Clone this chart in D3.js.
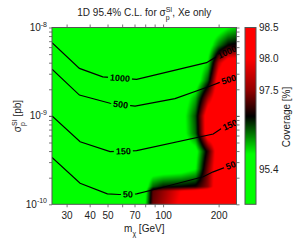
<!DOCTYPE html>
<html><head><meta charset="utf-8">
<script src="https://cdn.jsdelivr.net/npm/d3@7"></script>
<style>
body{margin:0;background:#fff}
svg{display:block}
text{font-family:"Liberation Sans",Arial,sans-serif;white-space:pre}
</style>
</head><body>
<svg id="c" width="296" height="246"></svg>
<script>
// ---------- data ----------
const massNodes = [25, 50, 80, 88, 100, 125, 150, 175, 200, 225, 250];
const sigmaRows = [1e-10, 1.413e-10, 1.585e-10, 2.512e-10, 3.981e-10, 6.31e-10, 1e-9, 1.585e-9, 2.512e-9, 3.981e-9, 6.31e-9, 1e-8];
const coverage = [
  [95.4, 95.4, 95.8, 97.3, 97.6, 98.1, 98.4, 98.4, 98.4, 98.4, 98.4],
  [95.4, 95.4, 95.6, 97.2, 97.5, 98.0, 98.3, 98.4, 98.4, 98.4, 98.4],
  [95.4, 95.4, 95.5, 96.4, 96.7, 96.8, 96.9, 97.5, 98.5, 98.5, 98.5],
  [95.4, 95.4, 95.4, 95.4, 95.4, 95.5, 95.8, 97.4, 98.5, 98.5, 98.5],
  [95.4, 95.4, 95.4, 95.4, 95.4, 95.4, 95.6, 97.0, 98.5, 98.5, 98.5],
  [95.4, 95.4, 95.4, 95.4, 95.4, 95.5, 96.4, 98.5, 98.5, 98.5, 98.5],
  [95.4, 95.4, 95.4, 95.4, 95.4, 95.5, 96.5, 98.5, 98.5, 98.5, 98.5],
  [95.4, 95.4, 95.4, 95.4, 95.4, 95.4, 96.1, 97.6, 98.5, 98.5, 98.5],
  [95.4, 95.4, 95.4, 95.4, 95.4, 95.4, 95.4, 96.5, 98.4, 98.5, 98.5],
  [95.4, 95.4, 95.4, 95.4, 95.4, 95.4, 95.4, 95.9, 97.7, 98.4, 98.4],
  [95.4, 95.4, 95.4, 95.4, 95.4, 95.4, 95.4, 95.5, 96.3, 96.8, 96.9],
  [95.4, 95.4, 95.4, 95.4, 95.4, 95.4, 95.4, 95.4, 95.5, 95.8, 96.0]
];
const contourLevels = [1000, 500, 150, 50];
const contour1000 = [[25, 6.73e-9], [35.2, 3.45e-9], [47.1, 2.77e-9], [71.9, 2.59e-9], [172, 4.0e-9], [195, 4.68e-9], [250, 5.94e-9]];
const contour500 = [[25, 3.37e-9], [35.2, 1.72e-9], [51.6, 1.39e-9], [70.5, 1.29e-9], [116, 1.57e-9], [176, 2.14e-9], [208, 2.44e-9], [250, 2.75e-9]];
const contour150 = [[25, 1.0e-9], [35.5, 5.1e-10], [51.6, 3.94e-10], [71.9, 4.04e-10], [187, 6.24e-10], [208, 7.24e-10], [250, 8.53e-10]];
const contour50 = [[25, 3.4e-10], [35.5, 1.73e-10], [49.9, 1.31e-10], [57.9, 1.29e-10], [71.9, 1.31e-10], [88.5, 1.46e-10], [165, 2.05e-10], [187, 2.33e-10], [250, 2.93e-10]];
const labelMassLeft = [58.4, 58.9, 60.9, 64.5];
const labelMassRight = [222, 227, 230, 232];
const xTickLabels = [30, 40, 50, 70, 100, 200];
const xMinorTicks = [30, 40, 50, 60, 70, 80, 90, 100, 200];
const yMajorTicks = [1e-10, 1e-9, 1e-8];
const yTickExp = ["-10", "-9", "-8"];
const cbTicks = [98.5, 98.0, 97.5, 95.4];
const cbTickText = ["98.5", "98.0", "97.5", "95.4"];

// ---------- layout ----------
const L = 52, R = 236.5, T = 27.5, B = 204.3;
const svg = d3.select("#c");
const x = d3.scaleLog().domain([25, 250]).range([L, R]);
const y = d3.scaleLog().domain([1e-10, 1e-8]).range([B, T]);
const cb = d3.scaleLinear().domain([94.47, 95.4, 97.5, 98.5]).range([B, 169, 90, T]);
const color = d3.scaleLinear().domain([95.8, 96.8, 98.0]).range(["#00ff00", "#000000", "#ff0000"]).clamp(true);
const axisCol = "#555";

// ---------- heat map ----------
const lmN = massNodes.map(Math.log10), lsN = sigmaRows.map(Math.log10);
function idx(arr, v) {
  let i = 0;
  while (i < arr.length - 2 && v > arr[i + 1]) i++;
  const t = Math.max(0, Math.min(1, (v - arr[i]) / (arr[i + 1] - arr[i])));
  return [i, t];
}
function cov(m, s) {
  const [i, tx] = idx(lmN, Math.log10(m));
  const [j, ty] = idx(lsN, Math.log10(s));
  const a = coverage[j][i], b = coverage[j][i + 1], c = coverage[j + 1][i], d = coverage[j + 1][i + 1];
  return (a * (1 - tx) + b * tx) * (1 - ty) + (c * (1 - tx) + d * tx) * ty;
}
const W = Math.ceil(R - L), H = Math.ceil(B - T);
const cv = document.createElement("canvas");
cv.width = W; cv.height = H;
const ctx = cv.getContext("2d");
const img = ctx.createImageData(W, H);
for (let j = 0; j < H; j++) {
  const s = y.invert(T + (j + 0.5) * (B - T) / H);
  for (let i = 0; i < W; i++) {
    const m = x.invert(L + (i + 0.5) * (R - L) / W);
    const c = d3.rgb(color(cov(m, s)));
    const k = (j * W + i) * 4;
    img.data[k] = c.r; img.data[k + 1] = c.g; img.data[k + 2] = c.b; img.data[k + 3] = 255;
  }
}
ctx.putImageData(img, 0, 0);
svg.append("image").attr("x", L).attr("y", T).attr("width", R - L).attr("height", B - T)
  .attr("preserveAspectRatio", "none").attr("href", cv.toDataURL());

// ---------- contours ----------
const contours = [contour1000, contour500, contour150, contour50];
const line = d3.line().x(d => x(d[0])).y(d => y(d[1]));
function posOn(pts, m) {
  const px = x(m);
  for (let k = 0; k < pts.length - 1; k++) {
    const x0 = x(pts[k][0]), x1 = x(pts[k + 1][0]);
    if (px >= x0 && px <= x1) {
      const y0 = y(pts[k][1]), y1 = y(pts[k + 1][1]);
      const t = (px - x0) / (x1 - x0);
      return { x: px, y: y0 + t * (y1 - y0), a: Math.atan2(y1 - y0, x1 - x0) * 180 / Math.PI };
    }
  }
  return { x: px, y: y(pts[pts.length - 1][1]), a: 0 };
}
const defs = svg.append("defs");
defs.append("clipPath").attr("id", "plotclip").append("rect").attr("x", L).attr("y", T).attr("width", R - L).attr("height", B - T);
const mask = defs.append("mask").attr("id", "gaps").attr("maskUnits", "userSpaceOnUse")
  .attr("x", 0).attr("y", 0).attr("width", 296).attr("height", 246);
mask.append("rect").attr("width", 296).attr("height", 246).attr("fill", "#fff");
const labelG = svg.append("g");
contours.forEach((pts, ci) => {
  [labelMassLeft[ci], labelMassRight[ci]].forEach(m => {
    const p = posOn(pts, m);
    const t = labelG.append("text").attr("transform", `translate(${p.x},${p.y}) rotate(${p.a})`)
      .attr("text-anchor", "middle").attr("dy", "0.35em").attr("font-size", 9).attr("font-weight", "bold")
      .attr("fill", "#000").text(contourLevels[ci]);
    const w = t.node().getComputedTextLength() + 4;
    mask.append("rect").attr("x", -w / 2).attr("y", -4).attr("width", w).attr("height", 8).attr("fill", "#000")
      .attr("transform", `translate(${p.x},${p.y}) rotate(${p.a})`);
  });
});
const lineG = svg.insert("g", () => labelG.node()).attr("clip-path", "url(#plotclip)");
lineG.append("g").attr("mask", "url(#gaps)").selectAll("path").data(contours).join("path")
  .attr("d", line).attr("fill", "none").attr("stroke", "#000").attr("stroke-width", 1.2);

// ---------- axes ----------
const yMinor = [];
[1e-10, 1e-9].forEach(d => { for (let k = 1; k <= 10; k++) yMinor.push(d * k); });
const ax = svg.append("g").attr("color", axisCol);
ax.append("g").attr("transform", `translate(0,${B})`)
  .call(d3.axisBottom(x).tickValues(xMinorTicks).tickSize(3).tickPadding(5)
    .tickFormat(d => xTickLabels.includes(d) ? d : ""))
  .call(g => g.select(".domain").remove())
  .call(g => g.selectAll("text").attr("fill", "#222").attr("font-size", 10).attr("font-family", null));
ax.append("g").attr("transform", `translate(0,${T})`)
  .call(d3.axisTop(x).tickValues(xMinorTicks).tickSize(3).tickFormat(""))
  .call(g => g.select(".domain").remove());
ax.append("g").attr("transform", `translate(${L},0)`)
  .call(d3.axisLeft(y).tickValues(yMinor).tickSize(3).tickFormat(""))
  .call(g => g.select(".domain").remove());
ax.append("g").attr("transform", `translate(${R},0)`)
  .call(d3.axisRight(y).tickValues(yMinor).tickSize(3).tickFormat(""))
  .call(g => g.select(".domain").remove());
ax.selectAll(".tick line").attr("stroke-width", 0.8);
svg.append("rect").attr("x", L).attr("y", T).attr("width", R - L).attr("height", B - T)
  .attr("fill", "none").attr("stroke", axisCol).attr("stroke-width", 1);
yMajorTicks.forEach((v, i) => {
  const t = svg.append("text").attr("x", L - 5).attr("y", y(v) + 3.5).attr("text-anchor", "end")
    .attr("font-size", 10).attr("fill", "#222");
  t.append("tspan").text("10");
  t.append("tspan").attr("dy", -4.5).attr("font-size", 7).text(yTickExp[i]);
});

// ---------- rich text helper ----------
function rich(parts, fs, cx, cy, rot) {
  const g = svg.append("g");
  let xp = 0;
  parts.forEach(p => {
    if (p.t !== undefined) {
      const t = g.append("text").attr("x", xp).attr("y", 0).attr("font-size", fs).attr("fill", "#222").text(p.t);
      xp += t.node().getComputedTextLength();
    } else {
      let w = 0;
      if (p.sup) { const t = g.append("text").attr("x", xp).attr("y", -fs * 0.45).attr("font-size", fs * 0.7).attr("fill", "#222").text(p.sup); w = Math.max(w, t.node().getComputedTextLength()); }
      if (p.sub) { const t = g.append("text").attr("x", xp).attr("y", fs * 0.38).attr("font-size", fs * 0.7).attr("fill", "#222").text(p.sub); w = Math.max(w, t.node().getComputedTextLength()); }
      xp += w;
    }
  });
  g.attr("transform", `translate(${cx},${cy}) rotate(${rot || 0}) translate(${-xp / 2},0)`);
}
rich([{ t: "1D 95.4% C.L. for σ" }, { sup: "SI", sub: "p" }, { t: ", Xe only" }], 10, (L + R) / 2, 16, 0);
rich([{ t: "m" }, { sub: "χ" }, { t: " [GeV]" }], 10, (L + R) / 2, 232, 0);
rich([{ t: "σ" }, { sup: "SI", sub: "p" }, { t: " [pb]" }], 10, 21, 116, -90);

// ---------- colour bar ----------
const CL = 245, CR = 256;
const ch = Math.ceil(B - T);
const cc = document.createElement("canvas");
cc.width = 1; cc.height = ch;
const cctx = cc.getContext("2d");
for (let j = 0; j < ch; j++) {
  cctx.fillStyle = color(cb.invert(T + (j + 0.5) * (B - T) / ch));
  cctx.fillRect(0, j, 1, 1);
}
svg.append("image").attr("x", CL).attr("y", T).attr("width", CR - CL).attr("height", B - T)
  .attr("preserveAspectRatio", "none").attr("href", cc.toDataURL());
svg.append("rect").attr("x", CL).attr("y", T).attr("width", CR - CL).attr("height", B - T)
  .attr("fill", "none").attr("stroke", axisCol).attr("stroke-width", 1);
cbTicks.forEach((v, i) => {
  svg.append("text").attr("x", CR + 3).attr("y", cb(v) + 3.5).attr("font-size", 10).attr("fill", "#222").text(cbTickText[i]);
});
svg.append("text").attr("transform", "translate(290,117) rotate(-90)").attr("text-anchor", "middle")
  .attr("font-size", 10).attr("fill", "#222").text("Coverage [%]");
</script>
</body></html>
